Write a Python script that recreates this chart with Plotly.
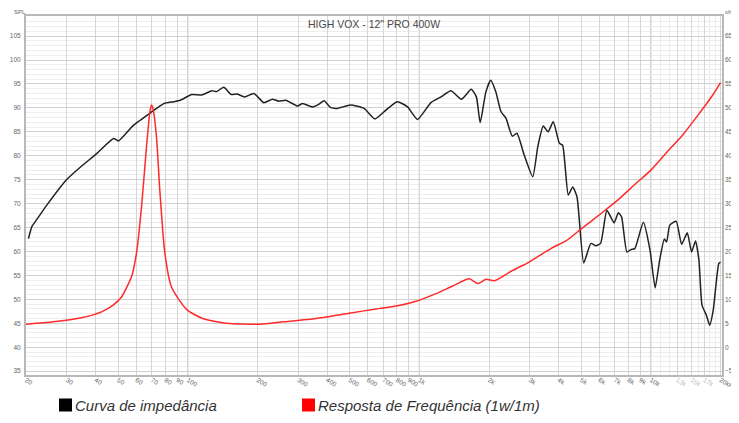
import math
import plotly.graph_objects as go

# ---------------- data ----------------
spl_freq = [20.5, 21.2, 22.2, 24.6, 29.8, 34.3, 40.5, 47.8, 50.2, 58.3, 70, 78.7, 87, 92.8,
            104, 115, 127, 133, 143, 154, 163, 176, 193, 213, 232, 247, 265, 298, 313, 346,
            369, 388, 413, 442, 505, 577, 643, 704, 803, 890, 982, 1122, 1242, 1370, 1520,
            1676, 1764, 1832, 1940, 2035, 2140, 2254, 2370, 2520, 2640, 2840, 3090, 3250,
            3430, 3600, 3790, 4030, 4160, 4400, 4600, 4800, 5130, 5510, 5790, 6070, 6460,
            6940, 7240, 7480, 7880, 8200, 8530, 9280, 9920, 10440, 10920, 11440, 11700,
            12080, 12880, 13580, 14370, 15000, 15600, 16140, 16640, 17380, 17960, 18600,
            19660, 20000]
spl_db = [62.7, 65.2, 66.6, 69.7, 74.9, 77.6, 80.5, 83.6, 83.1, 86.4, 89.2, 90.9, 91.3, 91.6,
          92.8, 92.7, 93.6, 93.4, 94.3, 92.8, 92.9, 92.3, 93.0, 91.1, 91.8, 91.4, 91.6, 90.4,
          90.9, 90.2, 90.8, 91.5, 90.1, 89.9, 90.6, 89.9, 87.7, 89.2, 91.3, 90.2, 87.6, 91.1,
          92.3, 93.6, 91.8, 93.9, 92.3, 86.9, 93.4, 95.8, 93.4, 89.2, 87.8, 84.1, 84.7, 80.1,
          75.6, 81.9, 86.2, 85.0, 87.1, 82.6, 82.2, 71.8, 73.5, 71.4, 57.6, 61.7, 61.2, 61.7,
          68.6, 66.0, 68.1, 67.2, 59.9, 60.4, 60.6, 66.1, 60.3, 52.4, 58.2, 62.6, 62.0, 65.5,
          66.3, 61.5, 63.9, 59.9, 62.2, 58.2, 48.8, 46.7, 44.6, 47.7, 57.5, 57.8]

imp_freq = [20, 26.2, 34.3, 42.4, 47.6, 51.7, 57.1, 60.0, 63.1, 66.3, 68.6, 69.6, 70.7, 73.2,
            75.7, 79.6, 85.0, 98.7, 116, 147, 204, 258, 358, 498, 650, 796, 968, 1180, 1394,
            1644, 1788, 1944, 2108, 2520, 2980, 3760, 4300, 4910, 6190, 7300, 8620, 10010,
            11600, 13700, 16170, 18450, 20000]
imp_ohm = [4.8, 5.3, 6.1, 7.4, 8.8, 10.5, 14.7, 19.6, 29.3, 41.9, 49.2, 50.6, 49.9, 44.0,
           32.8, 19.6, 12.6, 7.9, 6.0, 5.0, 4.8, 5.3, 6.0, 7.1, 8.0, 8.6, 9.6, 11.2, 12.8,
           14.3, 13.3, 14.2, 13.9, 16.0, 17.8, 20.8, 22.2, 24.4, 28.2, 31.0, 34.2, 37.0,
           40.5, 44.3, 48.8, 52.6, 55.3]

x_tick_vals = [20, 30, 40, 50, 60, 70, 80, 90, 100, 200, 300, 400, 500, 600, 700, 800, 900,
               1000, 2000, 3000, 4000, 5000, 6000, 7000, 8000, 9000, 10000, 13000, 15000,
               17000, 20000]
x_tick_text = ["20", "30", "40", "50", "60", "70", "80", "90", "100", "200", "300", "400",
               "500", "600", "700", "800", "900", "1k", "2k", "3k", "4k", "5k", "6k", "7k",
               "8k", "9k", "10k", '<span style="color:#bbbbbb">13k</span>',
               '<span style="color:#bbbbbb">15k</span>', '<span style="color:#bbbbbb">17k</span>',
               "20kHz"]
x_minor_vals = [11000, 12000, 14000, 16000, 18000, 19000]
decade_lines = [100, 1000, 10000]
spl_ticks = list(range(35, 106, 5))
ohm_ticks = list(range(-5, 66, 5))

title_text = 'HIGH VOX - 12" PRO 400W'
legend_labels = ["Curva de impedância", "Resposta de Frequência (1w/1m)"]
legend_colors = ["#000000", "#ff0000"]

# ---------------- geometry (window pixels; page body has an 8px margin) ----------------
OFF = 8
W, H = 739 - OFF, 423 - OFF
L, R, T, B = 26 - OFF, 722 - OFF, 16 - OFF, 375 - OFF
PW, PH = R - L, B - T


def px(xp):
    return (xp - OFF - L) / PW


def py(yp):
    return (B - (yp - OFF)) / PH


FONT = "Liberation Sans, Arial, sans-serif"

fig = go.Figure()
fig.add_trace(go.Scatter(x=imp_freq, y=imp_ohm, yaxis="y2", mode="lines",
                         line=dict(color="#ff2a2a", width=1.5, shape="spline", smoothing=0.6),
                         hoverinfo="skip"))
fig.add_trace(go.Scatter(x=spl_freq, y=spl_db, mode="lines",
                         line=dict(color="#222222", width=1.5, shape="spline", smoothing=0.5),
                         hoverinfo="skip"))

tickfont = dict(family=FONT, size=6.5, color="#666666")

fig.update_layout(
    width=W, height=H,
    margin=dict(l=L, r=W - R, t=T, b=H - B, pad=0, autoexpand=False),
    plot_bgcolor="white", paper_bgcolor="white",
    showlegend=False,
    xaxis=dict(type="log", range=[math.log10(20), math.log10(20300)],
               tickvals=x_tick_vals, ticktext=x_tick_text, tickfont=tickfont,
               showgrid=True, gridcolor="#d6d6d6", gridwidth=1,
               minor=dict(tickvals=x_minor_vals, showgrid=True, gridcolor="#ececec", ticks=""),
               showline=True, mirror=True, linecolor="#b8b8b8", linewidth=2,
               ticks="", zeroline=False, ticklabelstandoff=-3),
    yaxis=dict(range=[34.2, 109.2], tickvals=spl_ticks, tickfont=tickfont,
               showgrid=True, gridcolor="#d0d0d0", gridwidth=1,
               minor=dict(dtick=1, tick0=0, showgrid=True, gridcolor="#ededed", ticks=""),
               showline=True, mirror=True, linecolor="#b8b8b8", linewidth=2,
               ticks="", zeroline=False, ticklabelstandoff=2),
    yaxis2=dict(range=[34.2 - 40, 109.2 - 40], tickvals=ohm_ticks, tickfont=tickfont,
                overlaying="y", side="right", showgrid=False, zeroline=False,
                ticks="", ticklabelstandoff=2),
)

shapes = []
for d in decade_lines:
    shapes.append(dict(type="line", xref="x", yref="paper", x0=d, x1=d, y0=0, y1=1,
                       line=dict(color="#b4b4b4", width=1), layer="below"))
# legend squares
for (x0, x1, col) in [(59, 72, legend_colors[0]), (302, 315, legend_colors[1])]:
    shapes.append(dict(type="rect", xref="paper", yref="paper",
                       x0=px(x0), x1=px(x1), y0=py(411.5), y1=py(398.5),
                       fillcolor=col, line=dict(width=0)))
fig.update_layout(shapes=shapes)

ann = [
    dict(text=title_text, xref="paper", yref="paper", x=0.5, y=py(24), xanchor="center",
         yanchor="middle", showarrow=False, font=dict(family=FONT, size=10.5, color="#4a4a4a")),
    dict(text="SPL", xref="paper", yref="paper", x=px(12), y=py(12), xanchor="left",
         yanchor="middle", showarrow=False, font=dict(family=FONT, size=6, color="#666666")),
    dict(text="ohms", xref="paper", yref="paper", x=px(723), y=py(12), xanchor="left",
         yanchor="middle", showarrow=False, font=dict(family=FONT, size=6, color="#666666")),
    dict(text=legend_labels[0], xref="paper", yref="paper", x=px(72.5), y=py(405),
         xanchor="left", yanchor="middle", showarrow=False,
         font=dict(family=FONT, size=15, color="#333333", style="italic")),
    dict(text=legend_labels[1], xref="paper", yref="paper", x=px(315.5), y=py(405),
         xanchor="left", yanchor="middle", showarrow=False,
         font=dict(family=FONT, size=15, color="#333333", style="italic")),
]
fig.update_layout(annotations=ann)

fig.write_html("out.html")
